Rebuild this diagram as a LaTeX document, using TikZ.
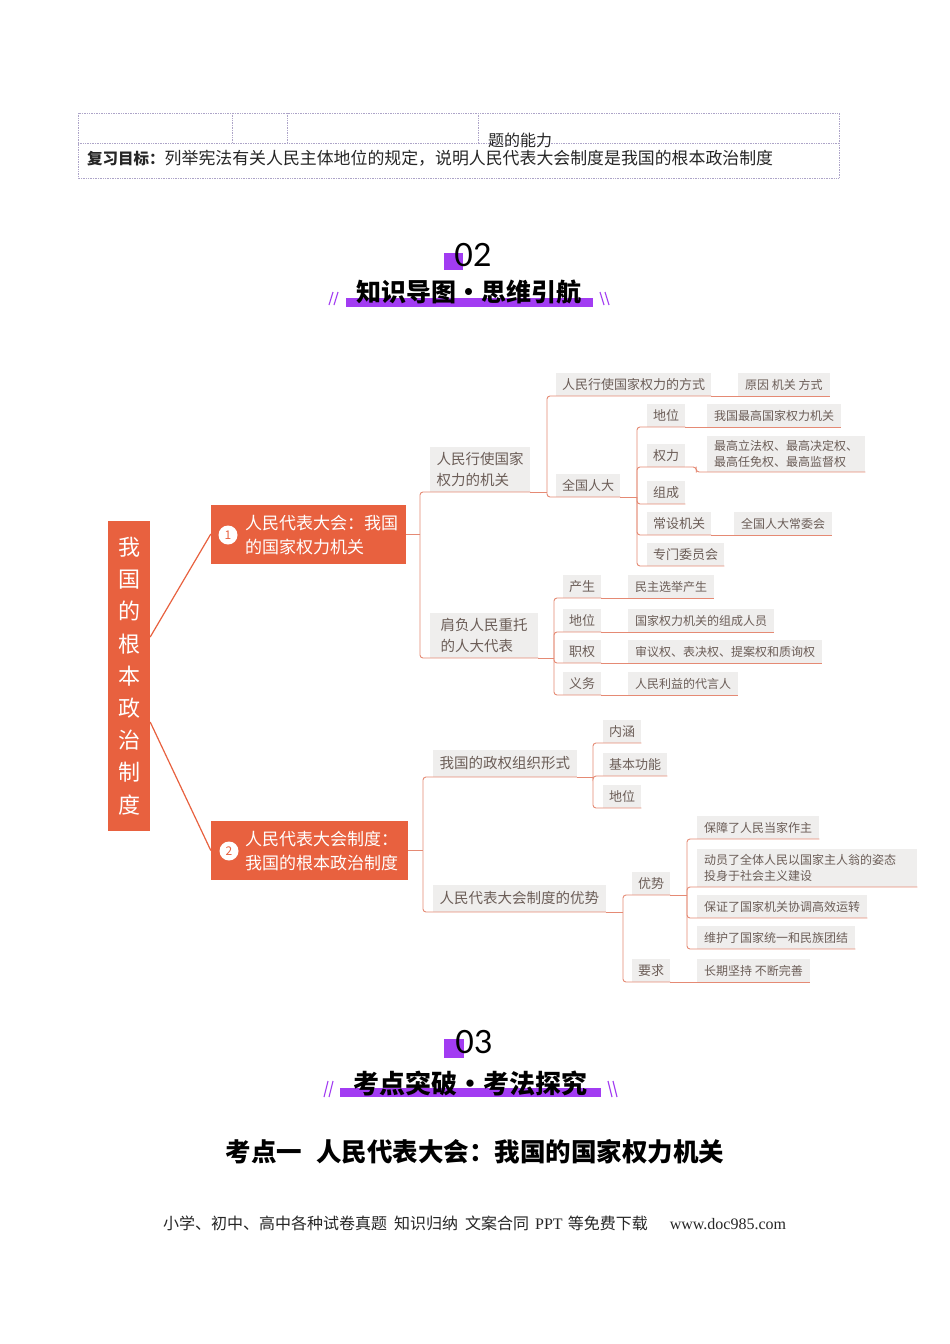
\documentclass[tikz,border=0pt]{standalone}
\usepackage{fontspec}
\setmainfont{Noto Sans CJK SC}
\newfontfamily\numfont{Lato}
\newfontfamily\westserif{Liberation Serif}
\usetikzlibrary{positioning, calc}
\definecolor{topicorange}{HTML}{E8613F}
\definecolor{linkred}{HTML}{E58A74}
\definecolor{boxgray}{HTML}{EFEEED}
\definecolor{boxtext}{HTML}{6B5D57}
\definecolor{accent}{HTML}{A23CF2}
\definecolor{gridline}{HTML}{ADA4C8}

\begin{document}
\begin{tikzpicture}[x=1pt, y=-1pt,
    every node/.style={inner sep=0pt},
    root/.style={fill=topicorange, text=white, minimum width=42pt, minimum height=310pt, align=center, font=\fontsize{22}{32.2}\selectfont},
    topic/.style={fill=topicorange, minimum width=195pt, minimum height=59pt},
    topictext/.style={text=white, align=left, anchor=west, font=\fontsize{17}{24}\selectfont},
    numdot/.style={circle, fill=white, text=topicorange, minimum size=19pt, font=\fontsize{12}{12}\selectfont},
    major/.style={fill=boxgray, text=boxtext, anchor=south west, align=left, inner xsep=6.5pt, inner ysep=5pt, minimum height=27pt, font=\fontsize{14.5}{21}\selectfont},
    minor/.style={major, inner xsep=6pt, inner ysep=4pt, minimum height=23pt, font=\fontsize{13}{17}\selectfont},
    leaf/.style={major, inner xsep=7pt, inner ysep=4.5pt, minimum height=22.5pt, font=\fontsize{12}{16}\selectfont},
    link/.style={draw=linkred, line width=0.9pt, rounded corners=3pt},
    rootlink/.style={draw=topicorange, line width=1.2pt},
    secnum/.style={font=\numfont\fontsize{32}{32}\selectfont},
    sectitle/.style={font=\bfseries\fontsize{25}{25}\selectfont},
  ]
  \path[use as bounding box, fill=white] (0,0) rectangle (950,1344);

  % review goal table
  \draw[gridline, densely dotted, line width=0.7pt] (78,113) rectangle (839,178)
    (78,143) -- (839,143) (232,113) -- (232,143) (287,113) -- (287,143) (478,113) -- (478,143);
  \node[anchor=west, text=black!85, font=\fontsize{16}{16}\selectfont] (ability) at (488,140) {题的能力};
  \node[anchor=west, text=black!85] (goal) at (87,158) {{\bfseries\fontsize{15.5}{16}\selectfont 复习目标：}{\fontsize{16.9}{17}\selectfont 列举宪法有关人民主体地位的规定，说明人民代表大会制度是我国的根本政治制度}};

  % section 02
  \fill[accent] (444,253) rectangle (463,270);
  \node[secnum] (s02) at (473,255) {02};
  \fill[accent] (346,298) rectangle (593,307);
  \node[sectitle] (s02t) at (469,292) {知识导图•思维引航};
  \draw[accent, line width=1.1pt] (329,305) -- (333,292) (334,305) -- (338,292)
    (600,292) -- (604,305) (605,292) -- (609,305);

  % mind map
  \node[root] (root) at (129,676) {我\\国\\的\\根\\本\\政\\治\\制\\度};
  \node[topic] (n1) at (308.5,534) {};
  \node[numdot] (c1) at (228,535) {1};
  \node[topictext] (n1t) at (245,535) {人民代表大会：我国\\的国家权力机关};
  \node[topic, minimum width=197pt] (n2) at (309.5,850.5) {};
  \node[numdot] (c2) at (229,851) {2};
  \node[topictext] (n2t) at (245,851) {人民代表大会制度：\\我国的根本政治制度};
  \draw[rootlink] ($(root.east)+(0,-39)$) -- (n1.west);
  \draw[rootlink] ($(root.east)+(0,46)$) -- (n2.west);

  \coordinate (t1) at (420,0);
  \coordinate (tA) at (547,0);
  \coordinate (tQ) at (637,0);
  \coordinate (tB) at (554,0);
  \coordinate (t2) at (423,0);
  \coordinate (tC) at (593,0);
  \coordinate (tD) at (623,0);
  \coordinate (tY) at (687,0);

  \node[major] (jg) at (430,492) {人民行使国家\\权力的机关};
  \node[major, minimum width=108pt] (db) at (430,658) {肩负人民重托\\的人大代表};
  \node[major] (zz) at (433,777) {我国的政权组织形式};
  \node[major] (ys) at (433,912) {人民代表大会制度的优势};

  \node[minor] (fs) at (556,396) {人民行使国家权力的方式};
  \node[leaf] (yy) at (738,396) {原因 机关 方式};
  \node[minor] (qg) at (556,497) {全国人大};
  \node[minor] (dw1) at (647,427) {地位};
  \node[leaf] (gj) at (707,427) {我国最高国家权力机关};
  \node[minor] (ql) at (647,467) {权力};
  \node[leaf] (zg) at (707,472) {最高立法权、最高决定权、\\最高任免权、最高监督权};
  \node[minor] (zc) at (647,504) {组成};
  \node[minor] (cs) at (647,535) {常设机关};
  \node[leaf] (cw) at (734,535) {全国人大常委会};
  \node[minor] (zm) at (647,566) {专门委员会};

  \node[minor] (cs2) at (563,598) {产生};
  \node[leaf] (mz) at (628,598) {民主选举产生};
  \node[minor] (dw2) at (563,632) {地位};
  \node[leaf] (zc2) at (628,632) {国家权力机关的组成人员};
  \node[minor] (zq) at (563,663) {职权};
  \node[leaf] (sy) at (628,663) {审议权、表决权、提案权和质询权};
  \node[minor] (yw) at (563,695) {义务};
  \node[leaf] (dy) at (628,695) {人民利益的代言人};

  \node[minor] (nh) at (603,743) {内涵};
  \node[minor] (gn) at (603,776) {基本功能};
  \node[minor] (dw3) at (603,808) {地位};

  \node[minor] (ys2) at (632,895) {优势};
  \node[minor] (yq) at (632,982) {要求};
  \node[leaf] (cc) at (697,982) {长期坚持 不断完善};
  \node[leaf] (bz) at (697,839) {保障了人民当家作主};
  \node[leaf, text width=206pt, inner ysep=5.5pt] (dy2) at (697,887) {动员了全体人民以国家主人翁的姿态\\投身于社会主义建设};
  \node[leaf] (bz2) at (697,918) {保证了国家机关协调高效运转};
  \node[leaf] (wh) at (697,949) {维护了国家统一和民族团结};

  % first topic links
  \draw[link] (n1.east) -- (t1 |- n1.east);
  \draw[link] (t1 |- n1.east) |- (jg.south east);
  \draw[link] (t1 |- n1.east) |- (db.south east);
  \draw[link] (jg.south east) -- (tA |- jg.south);
  \draw[link] (tA |- jg.south) |- (fs.south east);
  \draw[link] (tA |- jg.south) |- (qg.south east);
  \draw[link] (fs.south east) -- (yy.south east);
  \draw[link] (qg.south east) -- (tQ |- qg.south);
  \draw[link] (tQ |- qg.south) |- (dw1.south east);
  \draw[link] (tQ |- qg.south) |- (ql.south east);
  \draw[link] (tQ |- qg.south) |- (zc.south east);
  \draw[link] (tQ |- qg.south) |- (cs.south east);
  \draw[link] (tQ |- qg.south) |- (zm.south east);
  \draw[link] (dw1.south east) -- (gj.south east);
  \draw[link] (ql.south east) -| ($(ql.south east)!0.5!(zg.south west)$) |- (zg.south east);
  \draw[link] (cs.south east) -- (cw.south east);
  \draw[link] (db.south east) -- (tB |- db.south);
  \draw[link] (tB |- db.south) |- (cs2.south east);
  \draw[link] (tB |- db.south) |- (dw2.south east);
  \draw[link] (tB |- db.south) |- (zq.south east);
  \draw[link] (tB |- db.south) |- (yw.south east);
  \draw[link] (cs2.south east) -- (mz.south east);
  \draw[link] (dw2.south east) -- (zc2.south east);
  \draw[link] (zq.south east) -- (sy.south east);
  \draw[link] (yw.south east) -- (dy.south east);

  % second topic links
  \draw[link] (n2.east) -- (t2 |- n2.east);
  \draw[link] (t2 |- n2.east) |- (zz.south east);
  \draw[link] (t2 |- n2.east) |- (ys.south east);
  \draw[link] (zz.south east) -- (tC |- zz.south);
  \draw[link] (tC |- zz.south) |- (nh.south east);
  \draw[link] (tC |- zz.south) |- (gn.south east);
  \draw[link] (tC |- zz.south) |- (dw3.south east);
  \draw[link] (ys.south east) -- (tD |- ys.south);
  \draw[link] (tD |- ys.south) |- (ys2.south east);
  \draw[link] (tD |- ys.south) |- (yq.south east);
  \draw[link] (yq.south east) -- (cc.south east);
  \draw[link] (ys2.south east) -- (tY |- ys2.south);
  \draw[link] (tY |- ys2.south) |- (bz.south east);
  \draw[link] (tY |- ys2.south) |- (dy2.south east);
  \draw[link] (tY |- ys2.south) |- (bz2.south east);
  \draw[link] (tY |- ys2.south) |- (wh.south east);

  % section 03
  \fill[accent] (444,1039) rectangle (464,1058);
  \node[secnum] (s03) at (474,1042) {03};
  \fill[accent] (340,1088) rectangle (601,1097);
  \node[sectitle, font=\bfseries\fontsize{26}{26}\selectfont] (s03t) at (470,1083) {考点突破•考法探究};
  \draw[accent, line width=1.1pt] (324,1097) -- (328,1081) (329,1097) -- (333,1081)
    (608,1081) -- (612,1097) (613,1081) -- (617,1097);
  \node[font=\bfseries\fontsize{25.5}{26}\selectfont] (kd) at (475,1152) {考点一\hspace{14pt}人民代表大会：我国的国家权力机关};

  % footer
  \node[anchor=west, text=black!85, font=\fontsize{16}{16}\selectfont] (foot) at (163,1223) {小学、初中、高中各种试卷真题\hspace{7pt}知识归纳\hspace{7pt}文案合同\hspace{6pt}{\westserif PPT}\hspace{5pt}等免费下载\hspace{22pt}{\westserif www.doc985.com}};
\end{tikzpicture}
\end{document}
